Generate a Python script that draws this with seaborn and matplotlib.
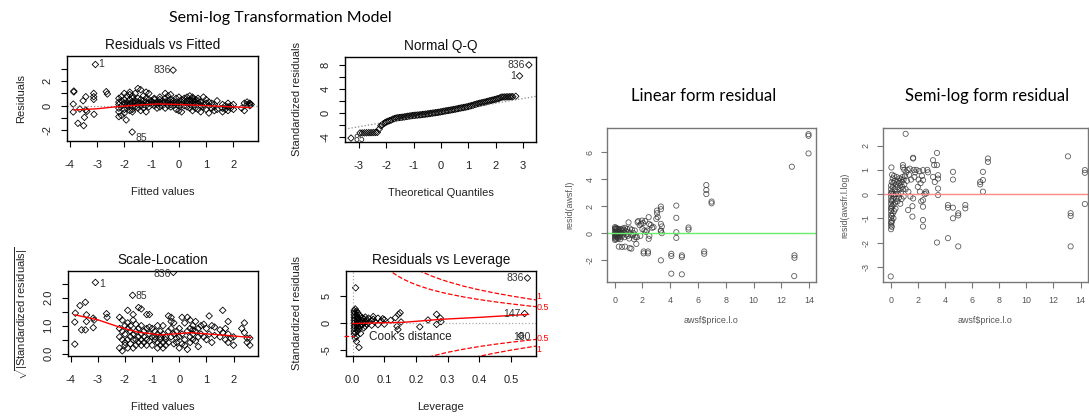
import matplotlib
matplotlib.use('Agg')
import matplotlib.pyplot as plt
from matplotlib.lines import Line2D
import seaborn as sns
import pandas as pd

# ---------------- data ----------------
# Residuals vs Fitted (fitted, residual)
rvf_points = [
    (-3.85, 1.19), (-3.85, 1.12), (-3.87, 0.13), (-3.87, -0.51), (-3.7, -1.43), (-3.49, -1.62),
    (-3.46, -0.95), (-3.41, -0.35), (-3.51, 0.4), (-3.41, 0.73), (-3.63, -0.27), (-3.37, -0.46),
    (-3.12, 1.0), (-3.12, 0.73), (-3.12, 0.51), (-3.11, -0.7), (-3.06, 3.35), (-2.66, 1.14),
    (-2.62, 0.95), (-2.2, -0.89), (-1.93, -1.16), (-1.71, -2.14), (-0.21, 2.89),
    (-2.2, 0.1), (-2.2, -0.2), (-2.2, 0.3), (-2.2, -0.5), (-2.2, 0.6),
    (-2.1, -0.8), (-2.1, 0.0), (-2.1, 0.4), (-2.1, 0.75),
    (-2.0, -0.3), (-2.0, 0.2), (-2.0, -0.6), (-2.0, 0.5), (-2.0, 1.0),
    (-1.9, 0.1), (-1.9, -0.2), (-1.9, 0.3), (-1.9, 0.8), (-1.9, 0.0),
    (-1.8, 0.5), (-1.8, -0.4), (-1.8, 0.15), (-1.8, 1.1), (-1.8, 0.9),
    (-1.7, 0.6), (-1.7, -0.3), (-1.7, 0.0), (-1.7, 0.3), (-1.7, 0.8), (-1.7, -0.5),
    (-1.6, 1.0), (-1.6, 0.2), (-1.6, -0.1), (-1.6, 0.4),
    (-1.5, 1.4), (-1.5, 0.3), (-1.5, -0.2), (-1.5, 0.6), (-1.5, 0.1),
    (-1.4, 1.3), (-1.4, 0.5), (-1.4, 0.0), (-1.4, -0.4), (-1.4, 0.2),
    (-1.3, 0.4), (-1.3, 0.1), (-1.3, 0.8), (-1.3, -0.2),
    (-1.2, 1.1), (-1.2, 0.3), (-1.2, 0.6), (-1.2, 0.0), (-1.2, -0.5),
    (-1.1, 0.2), (-1.1, 0.5), (-1.1, 1.0), (-1.1, -0.1),
    (-1.0, 0.4), (-1.0, 0.1), (-1.0, 0.3),
    (-0.9, 0.5), (-0.9, 0.2), (-0.9, 0.0), (-0.9, 0.6),
    (-0.8, 0.3), (-0.8, 0.1), (-0.8, -0.2),
    (-0.7, 0.5), (-0.7, 0.2), (-0.7, 0.3), (-0.7, 0.7), (-0.7, -0.1),
    (-0.6, 0.0), (-0.6, 0.4), (-0.6, 0.2),
    (-0.5, 1.0), (-0.5, 0.3), (-0.5, 0.6), (-0.5, -0.2),
    (-0.4, 0.8), (-0.4, 0.2), (-0.4, 0.4), (-0.4, 0.0),
    (-0.3, 0.9), (-0.3, 0.5), (-0.3, 0.1), (-0.3, 0.3), (-0.3, -0.1),
    (-0.2, 0.4), (-0.2, 0.0), (-0.2, 0.2),
    (-0.1, 0.6), (-0.1, 0.3), (-0.1, -0.3), (-0.1, 0.1),
    (0.0, 0.2), (0.0, 0.7), (0.0, -0.4), (0.0, 0.0),
    (0.1, 0.5), (0.1, 0.1), (0.1, -0.5), (0.1, 0.3),
    (0.2, 0.4), (0.2, 0.0), (0.2, 0.6),
    (0.3, 0.7), (0.3, 0.2), (0.3, -0.1), (0.3, 0.4),
    (0.4, 0.5), (0.4, 0.1), (0.4, 0.8), (0.4, 0.3), (0.4, -0.2),
    (0.5, 0.6), (0.5, 0.2), (0.5, 0.4), (0.5, -0.4), (0.5, 0.0), (0.5, 0.7),
    (0.6, 0.3), (0.6, 0.5), (0.6, 0.1), (0.6, -0.2),
    (0.7, 0.6), (0.7, 0.2), (0.7, -0.3), (0.7, 0.4),
    (0.8, 0.0), (0.8, 0.3), (0.8, -0.5),
    (0.9, 0.1), (0.9, 0.7), (0.9, -0.1),
    (1.0, 0.5), (1.0, -0.3), (1.0, 0.2),
    (1.1, 0.0), (1.1, -0.6), (1.1, 0.3),
    (1.2, 0.2), (1.2, -0.2), (1.3, -0.4), (1.3, 0.1), (1.3, -0.1),
    (1.4, 0.4), (1.4, -0.3), (1.6, -0.2), (1.6, 0.1), (1.6, -0.5),
    (1.7, -0.3), (1.7, 0.0), (1.8, -0.1), (1.8, -0.4), (1.8, 0.2),
    (1.9, 0.0), (1.9, -0.2), (2.0, 0.1), (2.0, -0.3), (2.3, -0.2),
    (2.4, 0.2), (2.4, -0.4), (2.5, 0.3), (2.5, 0.1), (2.6, 0.15), (2.6, 0.0), (2.6, 0.2), (2.65, 0.1),
]
rvf_smooth_x = [-3.85, -3.0, -2.27, -1.5, -0.8, 0.0, 0.54, 1.52, 2.5, 2.65]
rvf_smooth_y = [-0.35, -0.25, -0.08, 0.05, 0.14, 0.1, 0.05, -0.05, -0.14, -0.15]
rvf_labels = [("1", -2.94, 3.35, 'left'), ("836", -0.3, 2.9, 'right'), ("85", -1.6, -2.65, 'left')]

# Normal Q-Q (theoretical quantile, standardized residual)
qq_points = [
    (-3.29, -4.2), (-2.96, -3.35), (-2.88, -3.35), (-2.80, -3.33), (-2.72, -3.32), (-2.64, -3.3),
    (-2.56, -3.3), (-2.48, -3.28), (-2.40, -3.27), (-2.33, -3.25), (-2.26, -2.7), (-2.20, -2.15),
    (-2.15, -2.0), (-2.10, -1.8), (-2.05, -1.65), (-2.00, -1.52), (-1.94, -1.4), (-1.88, -1.3),
    (-1.82, -1.2), (-1.76, -1.05), (-1.70, -0.95), (-1.64, -0.87), (-1.58, -0.82), (-1.52, -0.78),
    (-1.46, -0.75), (-1.40, -0.72), (-1.34, -0.68), (-1.28, -0.63), (-1.22, -0.58), (-1.16, -0.54),
    (-1.10, -0.5), (-1.04, -0.45), (-0.98, -0.42), (-0.92, -0.4), (-0.86, -0.37), (-0.80, -0.35),
    (-0.74, -0.32), (-0.68, -0.28), (-0.62, -0.25), (-0.56, -0.22), (-0.50, -0.18), (-0.44, -0.14),
    (-0.38, -0.1), (-0.32, -0.06), (-0.26, -0.02), (-0.20, 0.02), (-0.14, 0.06), (-0.08, 0.1),
    (-0.02, 0.15), (0.04, 0.2), (0.10, 0.26), (0.16, 0.31), (0.22, 0.36), (0.28, 0.4),
    (0.34, 0.45), (0.40, 0.5), (0.46, 0.55), (0.52, 0.6), (0.58, 0.66), (0.64, 0.72),
    (0.70, 0.78), (0.76, 0.83), (0.82, 0.88), (0.88, 0.93), (0.94, 0.99), (1.00, 1.06),
    (1.06, 1.13), (1.12, 1.2), (1.18, 1.28), (1.24, 1.38), (1.30, 1.46), (1.36, 1.53),
    (1.42, 1.6), (1.48, 1.66), (1.54, 1.72), (1.60, 1.78), (1.66, 1.85), (1.72, 1.93),
    (1.78, 2.0), (1.84, 2.07), (1.90, 2.14), (1.96, 2.2), (2.02, 2.28), (2.08, 2.36),
    (2.14, 2.44), (2.20, 2.6), (2.26, 2.62), (2.32, 2.63), (2.38, 2.64), (2.44, 2.65),
    (2.50, 2.66), (2.56, 2.67), (2.62, 2.68), (2.73, 2.75), (2.87, 6.13), (3.21, 7.95),
]
qq_line_point = (0.0, 0.03)
qq_line_slope = 0.78
qq_labels = [("836", 3.08, 7.95, 'right'), ("1", 2.75, 6.13, 'right'), ("85", -3.2, -4.3, 'left')]

# Scale-Location (fitted, sqrt|std residual|)
sl_points = [
    (-3.85, 0.34), (-3.85, 1.13), (-3.83, 1.45), (-3.66, 1.72), (-3.46, 1.84), (-3.6, 0.85),
    (-3.46, 0.85), (-3.42, 1.15), (-3.42, 1.39), (-3.17, 0.93), (-3.17, 1.27), (-3.14, 1.2),
    (-3.09, 2.55), (-2.68, 1.43), (-2.66, 1.3), (-1.72, 2.09), (-0.22, 2.91),
    (-2.2, 0.6), (-2.2, 1.3), (-2.2, 0.2), (-2.2, 0.9),
    (-2.1, 1.2), (-2.1, 0.5), (-2.1, 0.1), (-2.1, 0.8),
    (-2.0, 0.7), (-2.0, 0.3), (-2.0, 1.0), (-2.0, 0.4),
    (-1.9, 1.55), (-1.9, 0.9), (-1.9, 0.5), (-1.9, 0.2), (-1.9, 1.1),
    (-1.8, 0.6), (-1.8, 1.0), (-1.8, 0.35), (-1.8, 0.8),
    (-1.7, 1.4), (-1.7, 0.7), (-1.7, 0.2), (-1.7, 0.5), (-1.7, 1.2),
    (-1.6, 1.05), (-1.6, 0.5), (-1.6, 0.8), (-1.6, 0.3),
    (-1.5, 1.65), (-1.5, 0.6), (-1.5, 0.9), (-1.5, 0.4),
    (-1.4, 1.6), (-1.4, 0.7), (-1.4, 0.3), (-1.4, 1.0), (-1.4, 0.5),
    (-1.3, 0.8), (-1.3, 0.4), (-1.3, 0.6),
    (-1.2, 1.4), (-1.2, 0.9), (-1.2, 0.5), (-1.2, 0.3),
    (-1.1, 1.4), (-1.1, 0.7), (-1.1, 0.95), (-1.1, 0.45),
    (-1.0, 0.6), (-1.0, 0.9), (-1.0, 0.3),
    (-0.9, 0.8), (-0.9, 0.5), (-0.9, 0.6),
    (-0.8, 0.2), (-0.8, 0.7), (-0.8, 0.4), (-0.8, 1.0),
    (-0.7, 0.6), (-0.7, 0.3), (-0.7, 0.8), (-0.7, 0.5),
    (-0.6, 0.4), (-0.6, 0.7), (-0.6, 0.2), (-0.6, 1.0),
    (-0.5, 0.3), (-0.5, 0.6), (-0.5, 0.5),
    (-0.4, 1.35), (-0.4, 0.8), (-0.4, 0.4),
    (-0.3, 1.3), (-0.3, 1.15), (-0.3, 0.6), (-0.3, 0.9),
    (-0.2, 0.7), (-0.2, 0.35), (-0.2, 1.1),
    (-0.1, 0.4), (-0.1, 0.8), (-0.1, 0.55),
    (0.0, 0.2), (0.0, 0.9), (0.0, 0.6),
    (0.1, 1.3), (0.1, 0.7), (0.1, 0.35),
    (0.2, 0.5), (0.2, 1.1), (0.2, 0.3),
    (0.3, 1.3), (0.3, 0.8), (0.3, 0.15),
    (0.4, 1.2), (0.4, 0.6), (0.4, 0.9), (0.4, 0.4),
    (0.5, 0.7), (0.5, 1.0), (0.5, 0.5), (0.5, 0.85),
    (0.6, 0.8), (0.6, 0.45), (0.6, 1.15),
    (0.7, 0.25), (0.7, 0.6), (0.7, 0.9),
    (0.8, 1.0), (0.8, 0.7), (0.9, 0.6), (0.9, 1.05), (1.0, 0.9), (1.0, 0.5),
    (1.1, 1.35), (1.1, 0.7), (1.2, 0.4), (1.2, 1.0), (1.3, 0.65), (1.3, 0.95),
    (1.5, 0.85), (1.5, 0.6), (1.6, 1.55), (1.6, 0.75), (1.7, 0.9), (1.7, 0.5),
    (1.8, 1.15), (1.8, 0.7), (1.8, 0.4), (1.9, 0.55), (2.0, 0.3), (2.0, 0.6),
    (2.3, 0.9), (2.4, 0.75), (2.4, 1.1), (2.5, 0.55), (2.5, 0.4), (2.6, 0.3), (2.6, 0.55),
]
sl_smooth_x = [-3.85, -3.0, -2.27, -1.54, -0.68, 0.42, 1.52, 2.5, 2.65]
sl_smooth_y = [1.39, 1.21, 0.97, 0.77, 0.67, 0.75, 0.67, 0.59, 0.58]
sl_labels = [("1", -2.94, 2.49, 'left'), ("85", -1.6, 2.07, 'left'), ("836", -0.32, 2.84, 'right')]

# Residuals vs Leverage (leverage, std residual)
lev_points = [
    (0.005, 2.3), (0.005, 1.5), (0.005, 0.5), (0.005, -0.5), (0.005, -1.5), (0.005, 1.0),
    (0.005, 0.0), (0.005, -1.0), (0.005, 2.0), (0.005, -2.0),
    (0.008, 2.6), (0.008, 1.8), (0.008, 1.2), (0.008, 0.3), (0.008, -0.3), (0.008, -0.8),
    (0.008, -1.8), (0.008, -2.8), (0.008, 0.8),
    (0.012, 2.2), (0.012, 1.4), (0.012, 0.6), (0.012, -0.2), (0.012, -1.2), (0.012, -2.5), (0.012, -3.4),
    (0.016, 1.9), (0.016, 1.0), (0.016, 0.1), (0.016, -0.7), (0.016, -1.5), (0.016, 0.5),
    (0.02, 1.5), (0.02, 0.7), (0.02, -0.1), (0.02, -1.0), (0.02, -4.5),
    (0.025, 1.2), (0.025, 0.3), (0.025, -0.5), (0.025, -1.9),
    (0.03, 1.0), (0.03, 0.4), (0.03, -0.3), (0.035, 0.8), (0.035, 0.0), (0.035, -0.9),
    (0.04, 1.1), (0.04, 0.2), (0.04, -0.6), (0.045, 0.6), (0.045, -0.2), (0.05, 0.9), (0.05, 0.1),
    (0.06, 0.5), (0.06, -0.4), (0.065, 0.7), (0.065, 1.2), (0.07, 0.2), (0.08, 0.9), (0.08, -0.3),
    (0.09, 0.4), (0.095, 0.8), (0.1, 0.6), (0.1, -0.2), (0.12, 0.5),
    (0.135, 1.0), (0.14, -0.6), (0.145, 1.6), (0.15, 1.9), (0.153, 0.2), (0.143, -1.2),
    (0.212, -0.7), (0.238, 0.56), (0.265, 1.6), (0.265, -0.25), (0.277, 0.9), (0.279, 0.25),
    (0.0095, 6.5), (0.552, 8.3), (0.543, 1.75), (0.531, -2.3),
]
lev_smooth_x = [0.0, 0.05, 0.157, 0.28, 0.4, 0.556]
lev_smooth_y = [-0.1, 0.0, 0.12, 0.69, 1.05, 1.6]
lev_labels = [("836", 0.54, 8.3, 'right'), ("147", 0.53, 1.6, 'right'), ("160", 0.563, -2.6, 'right')]
cook_h = [0.11, 0.12, 0.13, 0.14, 0.16, 0.18, 0.2, 0.22, 0.25, 0.28, 0.3, 0.35, 0.4, 0.45, 0.5, 0.55, 0.6]
cook_half = [10.06, 9.57, 9.15, 8.76, 8.10, 7.55, 7.07, 6.66, 6.12, 5.67, 5.40, 4.82, 4.33, 3.91, 3.54, 3.20, 2.89]
cook_one = [14.22, 13.54, 12.94, 12.39, 11.46, 10.67, 10.0, 9.41, 8.66, 8.02, 7.64, 6.81, 6.12, 5.53, 5.0, 4.52, 4.08]
cook_tags = [("1", 4.9), ("0.5", 2.9), ("0.5", -2.9), ("1", -4.9)]

# Linear form residual (price, resid)
lin_points = [
    (0.02, 0.45), (0.02, 0.3), (0.02, 0.1), (0.02, -0.1), (0.02, -0.3), (0.02, -0.5), (0.05, 0.35),
    (0.05, 0.0), (0.05, -0.2), (0.05, -0.4), (0.1, 0.4), (0.1, 0.2), (0.1, -0.05), (0.1, -0.25),
    (0.12, -0.45), (0.15, 0.3), (0.15, 0.1), (0.15, -0.15), (0.2, 0.35), (0.2, 0.0), (0.2, -0.3),
    (0.25, 0.2), (0.25, -0.1), (0.25, -0.4), (0.3, 0.3), (0.3, 0.05), (0.3, -0.2), (0.3, -1.0),
    (0.35, 0.25), (0.35, -0.3), (0.4, 0.1), (0.4, -0.1), (0.4, -0.45), (0.45, 0.3), (0.5, 0.0),
    (0.5, -0.25), (0.53, -1.02), (0.55, 0.2), (0.6, -0.1), (0.65, 0.25), (0.7, 0.05), (0.7, -0.3),
    (0.75, -1.0), (0.8, 0.15), (0.85, -0.1), (0.9, 0.3), (0.95, -0.2), (1.0, 0.8), (1.0, 0.1),
    (1.05, -0.4), (1.08, -1.11), (1.1, 0.35), (1.15, -0.1), (1.2, -1.15), (1.25, 0.25), (1.3, -0.15),
    (1.35, 0.0), (1.4, -0.45), (1.45, 0.2), (1.5, -0.3), (0.75, 0.4), (0.6, 0.35),
    (1.56, -0.8), (1.61, -0.3), (1.65, 0.81), (1.7, 0.9), (1.8, 0.6), (1.85, -0.2), (1.9, 0.7),
    (1.97, 0.94), (2.0, 0.3), (2.05, 0.75), (2.09, -1.36), (2.09, -1.5), (2.15, 0.2), (2.2, 0.9),
    (2.25, 0.1), (2.33, 0.2), (2.4, -1.36), (2.4, -1.5), (2.45, 1.19), (2.45, -0.42), (2.48, 0.69),
    (2.5, -0.2), (2.6, 0.6), (2.7, 0.4), (2.8, 0.45), (3.05, 1.68), (3.05, 1.48), (3.0, 1.06),
    (3.1, 1.2), (3.33, 1.98), (3.33, 1.78), (3.33, 0.69), (3.33, 0.2), (3.33, 0.15), (3.33, -2.02),
    (3.4, 0.0), (3.4, 0.5),
    (4.08, -1.53), (4.08, -1.7), (4.08, -3.01), (4.44, 2.05), (4.44, 1.14), (4.44, 0.07),
    (4.44, -0.35), (4.84, -1.65), (4.84, -1.78), (4.84, -3.06), (5.32, 0.42), (5.32, 0.27),
    (6.45, -1.36), (6.45, -1.53), (6.6, 3.58), (6.6, 3.21), (6.6, 2.91), (6.98, 2.35), (6.98, 2.22),
    (12.76, 4.94), (12.95, -1.65), (12.95, -1.83), (12.93, -3.19), (13.96, 7.36), (13.96, 7.24),
    (13.96, 5.93),
]

# Semi-log form residual (price, resid)
log_points = [
    (0.0, -3.4), (0.02, -1.45), (0.02, -1.3), (0.02, -1.15), (0.02, -1.0), (0.02, -0.85),
    (0.02, -0.7), (0.02, -0.55), (0.02, -0.4), (0.02, -0.25), (0.02, -0.1), (0.02, 0.05),
    (0.02, 0.2), (0.02, 0.35), (0.05, 1.1), (0.05, -1.2), (0.05, -0.6), (0.05, 0.0),
    (0.08, -1.35), (0.08, -0.9), (0.08, -0.3), (0.08, 0.5), (0.1, -1.1), (0.1, -0.5), (0.1, 0.1),
    (0.1, 0.8), (0.15, -0.8), (0.15, -0.2), (0.15, 0.3), (0.15, 0.65), (0.2, -1.0), (0.2, -0.45),
    (0.2, 0.0), (0.2, 0.45), (0.25, -0.7), (0.25, -0.1), (0.25, 0.75), (0.3, -0.35), (0.3, 0.2),
    (0.3, 0.55), (0.35, -0.6), (0.35, 0.0), (0.4, 0.4), (0.4, -0.2), (0.45, 0.1), (0.45, 0.7),
    (0.5, -0.3), (0.5, 0.3), (0.55, 0.55), (0.55, 0.0), (0.6, -0.15), (0.6, 0.45), (0.65, 0.65),
    (0.65, 0.2), (0.7, -0.4), (0.7, 0.35), (0.75, 0.6), (0.75, 0.05), (0.8, 0.5), (0.8, -0.2),
    (0.85, 0.3), (0.85, 0.7), (0.9, 1.1), (0.9, 1.2), (0.9, 0.2), (0.95, 0.6), (0.95, -0.1),
    (1.0, 1.0), (1.0, 0.4), (1.05, 0.75), (1.1, 2.49), (1.1, 0.2), (1.15, 0.9), (1.2, 0.55),
    (1.25, 1.0), (1.28, -0.66), (1.3, 0.1), (1.35, 0.8), (1.4, 1.05), (1.45, -0.1), (1.5, 0.6),
    (1.6, -0.93), (1.6, -0.5), (1.65, 1.47), (1.65, 1.5), (1.65, -0.18), (1.7, 1.0), (1.75, 0.7),
    (1.8, 0.9), (1.9, 1.0), (2.0, 0.3), (2.05, 0.6), (2.1, 0.95), (2.15, 0.1), (2.2, 0.45),
    (2.25, -0.3), (2.3, 0.75), (2.38, 0.99), (2.38, 0.58), (2.38, -0.25), (2.38, -0.52),
    (2.38, -1.07), (2.38, -1.34), (2.5, 0.0), (2.6, 0.1), (2.63, 0.03), (2.7, 1.0), (2.75, 0.9),
    (3.12, 1.4), (3.12, 0.71), (3.2, 1.2), (3.25, 0.5), (3.41, 1.7), (3.41, 1.2), (3.49, 0.78),
    (3.49, 0.64), (3.49, 0.23), (3.49, -0.04), (3.41, -2.0), (4.22, -0.45), (4.22, -0.56),
    (4.22, -1.82), (4.59, 0.92), (4.59, 0.6), (4.59, -0.56), (4.59, -1.0), (4.98, -0.79),
    (4.98, -0.88), (4.98, -2.16), (5.5, -0.45), (5.5, -0.59), (6.6, 0.5), (6.6, 0.4), (6.8, 0.92),
    (6.8, 0.58), (6.8, 0.1), (7.17, 1.47), (7.17, 1.33), (13.07, 1.56), (13.27, -0.79),
    (13.27, -0.9), (13.27, -2.16), (14.32, 0.99), (14.32, 0.88), (14.32, -0.41),
]

# ---------------- styling ----------------
sns.set_style('white')
plt.rcParams['font.family'] = ['Liberation Sans', 'DejaVu Sans']
plt.rcParams['mathtext.fontset'] = 'custom'
plt.rcParams['mathtext.rm'] = 'Liberation Sans'
plt.rcParams['mathtext.it'] = 'Liberation Sans:italic'

W, H = 1089, 417
fig = plt.figure(figsize=(W / 100, H / 100), dpi=100)


def to_df(points):
    return pd.DataFrame(points, columns=['x', 'y'])


def r_axes(box, xlim, ylim, xticks, xlabels, yticks, ylabels,
           fs=8, col='#222222', frame='black', xtl_pad=10, ytl_pad=6.5):
    l, t, r, b = box
    ax = fig.add_axes([l / W, 1 - b / H, (r - l) / W, (b - t) / H])
    ax.set_xlim(xlim)
    ax.set_ylim(ylim)
    ax.set_xticks(xticks)
    ax.set_xticklabels(xlabels, fontsize=fs, color=col)
    ax.set_yticks(yticks)
    ax.set_yticklabels(ylabels, fontsize=fs, color=col, rotation=90, va='center')
    ax.tick_params(axis='x', length=4, width=0.8, color=frame, pad=xtl_pad, direction='out', bottom=True)
    ax.tick_params(axis='y', length=4, width=0.8, color=frame, pad=ytl_pad, direction='out', left=True)
    for s in ax.spines.values():
        s.set_color(frame)
        s.set_linewidth(1.0)
        s.set_visible(True)
    ax.grid(False)
    return ax


def lab(ax, box, xl, yl, xoff, yoff, fs=8, col='#222222'):
    # offsets in pixels from the box edge to the near edge of the label text
    l, t, r, b = box
    ax.set_xlabel(xl, fontsize=fs, color=col)
    ax.set_ylabel(yl, fontsize=fs, color=col)
    ax.xaxis.set_label_coords(0.5, -xoff / (b - t))
    ax.yaxis.set_label_coords(-yoff / (r - l), 0.5)


def panel_title(ax, box, text):
    l, t, r, b = box
    ax.text(0.5, 1 + 11 / (b - t), text, transform=ax.transAxes, ha='center', va='center',
            fontsize=9.8, color='#111111')


def diamonds(ax, points):
    sns.scatterplot(data=to_df(points), x='x', y='y', ax=ax, marker='D', s=11, facecolor='none',
                    edgecolor='black', linewidth=0.6, legend=False)
    ax.collections[-1].set_facecolor('none')


def circles(ax, points):
    sns.scatterplot(data=to_df(points), x='x', y='y', ax=ax, marker='o', s=14,
                    facecolor='none', edgecolor='#333333', linewidth=0.6, alpha=0.8, legend=False)
    ax.collections[-1].set_facecolor('none')


def id_labels(ax, labels, color='#333333', fs=7.5):
    for txt, x, y, ha in labels:
        ax.text(x, y, txt, ha=ha, va='center', fontsize=fs, color=color)


# ---- panel 1: Residuals vs Fitted
b1 = (67, 56, 258, 141)
ax1 = r_axes(b1, (-4.1, 2.9), (-2.87, 4.04), [-4, -3, -2, -1, 0, 1, 2],
             ['-4', '-3', '-2', '-1', '0', '1', '2'], [-2, -1, 0, 1, 2, 3],
             ['-2', '', '0', '', '2', ''])
ax1.axhline(0, color='#999999', ls=':', lw=0.9)
diamonds(ax1, rvf_points)
sns.lineplot(x=rvf_smooth_x, y=rvf_smooth_y, ax=ax1, color='red', lw=1, sort=False)
id_labels(ax1, rvf_labels)
lab(ax1, b1, 'Fitted values', 'Residuals', 46, 41)
panel_title(ax1, b1, 'Residuals vs Fitted')

# ---- panel 2: Normal Q-Q
b2 = (345, 57, 536, 142)
ax2 = r_axes(b2, (-3.51, 3.47), (-4.85, 9.27), [-3, -2, -1, 0, 1, 2, 3],
             ['-3', '-2', '-1', '0', '1', '2', '3'], [-4, -2, 0, 2, 4, 6, 8],
             ['-4', '', '0', '', '4', '', '8'])
ax2.axline(qq_line_point, slope=qq_line_slope, color='#888888', ls=':', lw=0.9)
diamonds(ax2, qq_points)
id_labels(ax2, qq_labels)
lab(ax2, b2, 'Theoretical Quantiles', 'Standardized residuals', 46, 43)
panel_title(ax2, b2, 'Normal Q-Q')

# ---- panel 3: Scale-Location
b3 = (68, 271, 258, 356)
ax3 = r_axes(b3, (-4.1, 2.9), (-0.086, 2.96), [-4, -3, -2, -1, 0, 1, 2],
             ['-4', '-3', '-2', '-1', '0', '1', '2'], [0, 0.5, 1.0, 1.5, 2.0, 2.5],
             ['0.0', '', '1.0', '', '2.0', ''])
diamonds(ax3, sl_points)
sns.lineplot(x=sl_smooth_x, y=sl_smooth_y, ax=ax3, color='red', lw=1, sort=False)
id_labels(ax3, sl_labels)
lab(ax3, b3, 'Fitted values', r'$\sqrt{|\mathrm{Standardized\ residuals}|}$', 46, 38)
panel_title(ax3, b3, 'Scale-Location')

# ---- panel 4: Residuals vs Leverage
b4 = (346, 271, 536, 356)
ax4 = r_axes(b4, (-0.021, 0.579), (-6.08, 9.6), [0, 0.1, 0.2, 0.3, 0.4, 0.5],
             ['0.0', '0.1', '0.2', '0.3', '0.4', '0.5'], [-5, 0, 5], ['-5', '0', '5'])
ax4.axhline(0, color='#aaaaaa', ls=':', lw=0.9)
ax4.axvline(0, color='#aaaaaa', ls=':', lw=0.9)
for cv in (cook_half, cook_one):
    sns.lineplot(x=cook_h, y=cv, ax=ax4, color='red', lw=0.9, ls='--', sort=False)
    sns.lineplot(x=cook_h, y=[-v for v in cv], ax=ax4, color='red', lw=0.9, ls='--', sort=False)
diamonds(ax4, lev_points)
sns.lineplot(x=lev_smooth_x, y=lev_smooth_y, ax=ax4, color='red', lw=1, sort=False)
id_labels(ax4, lev_labels)
for txt, yv in cook_tags:
    ax4.text(0.581, yv, txt, ha='left', va='center', fontsize=6.5, color='red', clip_on=False)
ax4.legend(handles=[Line2D([], [], color='red', ls='--', lw=0.9, label="Cook's distance")],
           loc='center left', bbox_to_anchor=(-0.01, 0.225), frameon=False, fontsize=8.5,
           handlelength=0.8, handletextpad=1.3, borderaxespad=0, borderpad=0,
           labelcolor='#222222')
lab(ax4, b4, 'Leverage', 'Standardized residuals', 46, 44)
panel_title(ax4, b4, 'Residuals vs Leverage')

# ---- right panels
gcol = '#555555'
b5 = (607, 128, 816, 282)
ax5 = r_axes(b5, (-0.55, 14.5), (-3.63, 7.82), [0, 2, 4, 6, 8, 10, 12, 14],
             ['0', '2', '4', '6', '8', '10', '12', '14'], [-2, 0, 2, 4, 6],
             ['-2', '0', '2', '4', '6'], fs=6.4, col=gcol, frame='#777777', xtl_pad=6, ytl_pad=5)
ax5.axhline(0, color='#66ee66', lw=1.0)
circles(ax5, lin_points)
lab(ax5, b5, 'awsf$price.l.o', 'resid(awsf.l)', 34, 33, fs=6.4, col=gcol)

b6 = (883, 128, 1088, 282)
ax6 = r_axes(b6, (-0.57, 14.55), (-3.63, 2.73), [0, 2, 4, 6, 8, 10, 12, 14],
             ['0', '2', '4', '6', '8', '10', '12', '14'], [-3, -2, -1, 0, 1, 2],
             ['-3', '-2', '-1', '0', '1', '2'], fs=6.4, col=gcol, frame='#777777', xtl_pad=6, ytl_pad=5)
ax6.axhline(0, color='#ff8888', lw=1.0)
circles(ax6, log_points)
lab(ax6, b6, 'awsf$price.l.o', 'resid(awsfr.l.log)', 34, 34, fs=6.4, col=gcol)

# ---- slide titles
fig.text(280 / W, 1 - 18 / H, 'Semi-log Transformation Model', ha='center', va='center',
         fontsize=11.5, family=['Lato', 'DejaVu Sans'], color='black')
fig.text(704 / W, 1 - 96 / H, 'Linear form residual', ha='center', va='center',
         fontsize=12, family=['Lato', 'DejaVu Sans'], color='black')
fig.text(987 / W, 1 - 96 / H, 'Semi-log form residual', ha='center', va='center',
         fontsize=12, family=['Lato', 'DejaVu Sans'], color='black')

fig.savefig('out.png', dpi=100, facecolor='white')
